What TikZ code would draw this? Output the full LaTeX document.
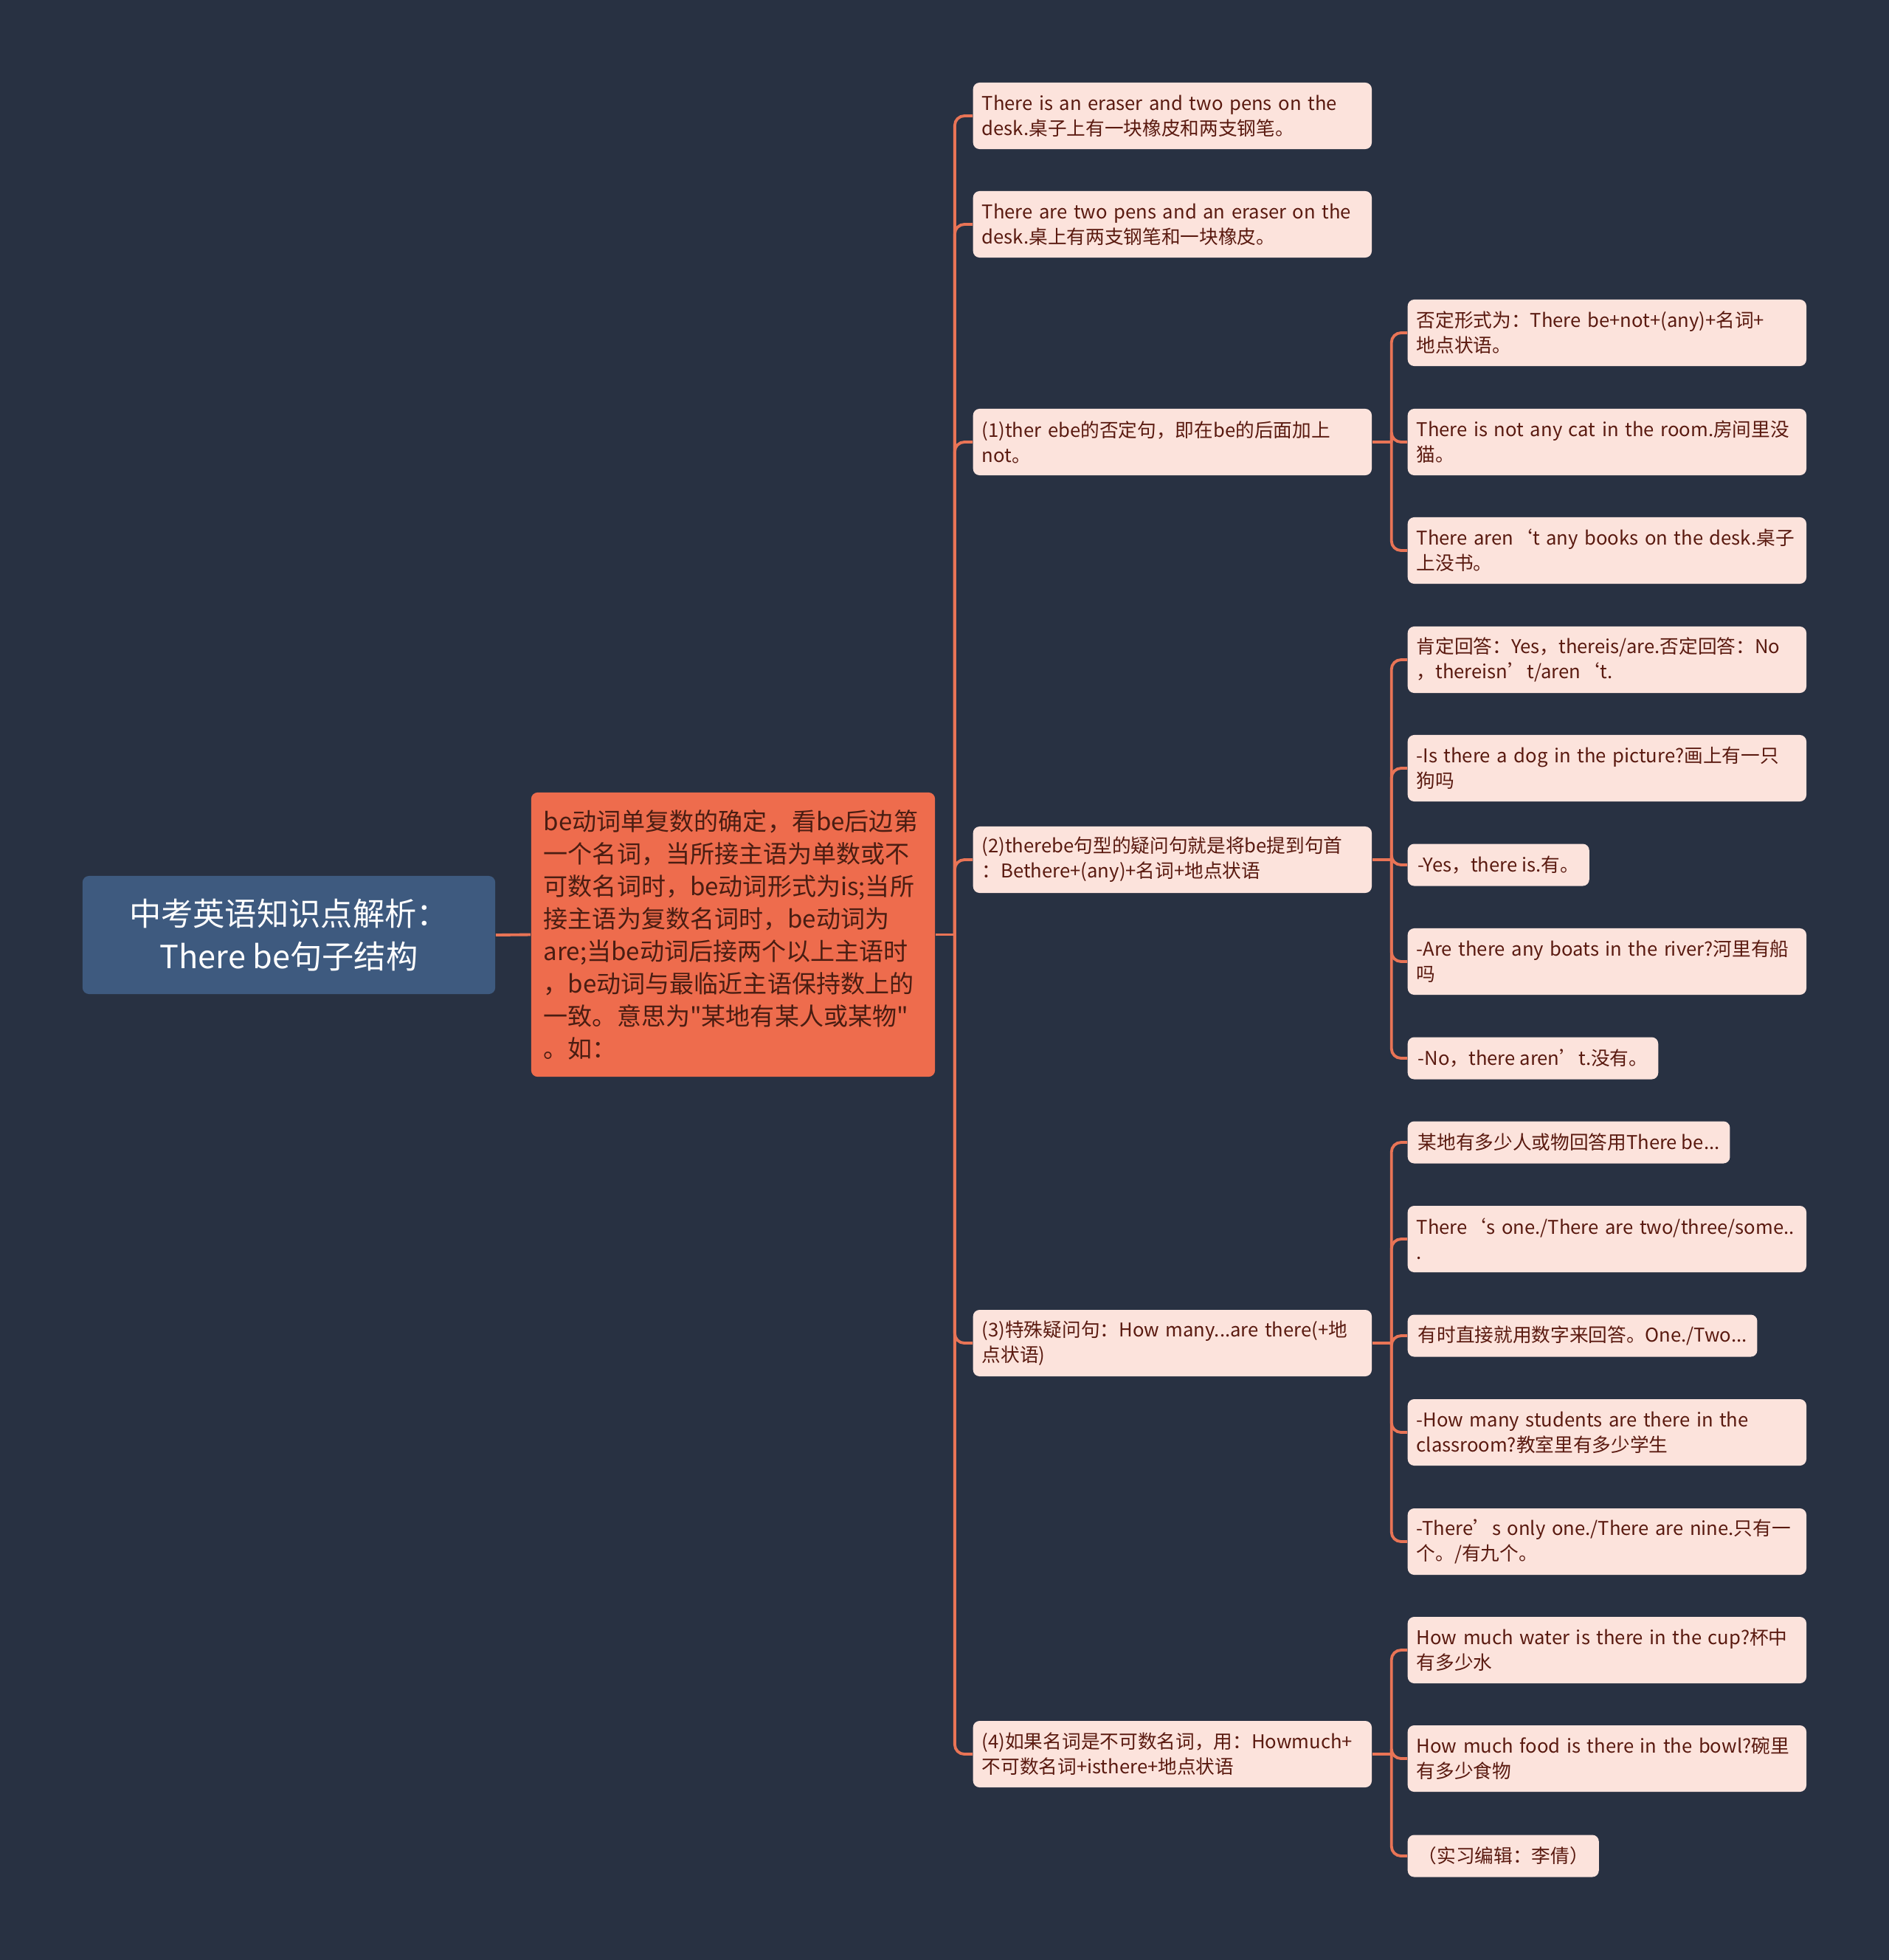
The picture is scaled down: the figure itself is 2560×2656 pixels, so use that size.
\documentclass[tikz,border=0pt]{standalone}
\usepackage{fontspec}
\newfontfamily\cjkfont{Noto Sans CJK SC}
\usetikzlibrary{positioning}
\definecolor{bgnavy}{HTML}{283142}
\definecolor{rootblue}{HTML}{3E5A7F}
\definecolor{mainorange}{HTML}{EE6C4D}
\definecolor{maintext}{HTML}{4A1D12}
\definecolor{leaffill}{HTML}{FCE3DC}
\definecolor{leaftext}{HTML}{5A1A10}
\definecolor{linkorange}{HTML}{E97456}

\begin{document}
\begin{tikzpicture}[
  x=0.01cm,y=-0.01cm,
  rootbox/.style={rounded corners=2.5pt, fill=rootblue, text=white, font=\cjkfont\fontsize{12.3}{16.5}\selectfont, align=center, minimum width=5.59cm, minimum height=1.6cm, inner sep=0pt},
  mainbox/.style={rounded corners=2.5pt, fill=mainorange, text=maintext, font=\cjkfont\fontsize{9.4}{12.5}\selectfont, align=left, text width=5.13cm, inner xsep=0.17cm, inner ysep=0pt, minimum height=3.85cm},
  leaf/.style={rounded corners=2.5pt, fill=leaffill, text=leaftext, font=\cjkfont\fontsize{7.3}{9.7}\selectfont, align=left, inner xsep=0.12cm, inner ysep=0pt, anchor=west},
  leafwide/.style={leaf, text width=5.16cm, minimum height=0.9cm},
  leafshort/.style={leaf, inner xsep=0.14cm, minimum height=0.57cm},
  link/.style={draw=linkorange, line width=1.1pt, rounded corners=0.13cm},
]
\fill[bgnavy] (0,0) rectangle (2560,2656);
\useasboundingbox (0,0) rectangle (2560,2656);

% root and main idea
\node[rootbox] (root) at (391.5,1267) {中考英语知识点解析：\\There be句子结构};
\node[mainbox] (main) at (993.5,1266.5) {be动词单复数的确定，看be后边第\\一个名词，当所接主语为单数或不\\可数名词时，be动词形式为is;当所\\接主语为复数名词时，be动词为\\are;当be动词后接两个以上主语时\\，be动词与最临近主语保持数上的\\一致。意思为"某地有某人或某物"\\。如：};
\draw[link] (root.east) -- (main.west);

% second level
\node[leafwide] (ex1) at (1318,157) {There is an eraser and two pens on the\\desk.桌子上有一块橡皮和两支钢笔。};
\node[leafwide] (ex2) at (1318,304) {There are two pens and an eraser on the\\desk.桌上有两支钢笔和一块橡皮。};
\node[leafwide] (neg) at (1318,599) {(1)ther ebe的否定句，即在be的后面加上\\not。};
\node[leafwide] (ques) at (1318,1165) {(2)therebe句型的疑问句就是将be提到句首\\：Bethere+(any)+名词+地点状语};
\node[leafwide] (many) at (1318,1820) {(3)特殊疑问句：How many...are there(+地\\点状语)};
\node[leafwide] (much) at (1318,2377) {(4)如果名词是不可数名词，用：Howmuch+\\不可数名词+isthere+地点状语};
\coordinate (tmain) at ([xshift=0.26cm]main.east);
\draw[link] (main.east) -- (tmain);
\foreach \c in {ex1,ex2,neg,ques,many,much}
  \draw[link] (tmain) |- (\c.west);

% negative sentences
\node[leafwide] (neg1) at (1907,451) {否定形式为：There be+not+(any)+名词+\\地点状语。};
\node[leafwide] (neg2) at (1907,599) {There is not any cat in the room.房间里没\\猫。};
\node[leafwide] (neg3) at (1907,746) {There aren‘t any books on the desk.桌子\\上没书。};

% questions
\node[leafwide] (ques1) at (1907,894) {肯定回答：Yes，thereis/are.否定回答：No\\，thereisn’t/aren‘t.};
\node[leafwide] (ques2) at (1907,1041) {-Is there a dog in the picture?画上有一只\\狗吗};
\node[leafshort] (ques3) at (1907,1172) {-Yes，there is.有。};
\node[leafwide] (ques4) at (1907,1303) {-Are there any boats in the river?河里有船\\吗};
\node[leafshort] (ques5) at (1907,1434) {-No，there aren’t.没有。};

% how many
\node[leafshort] (many1) at (1907,1548) {某地有多少人或物回答用There be...};
\node[leafwide] (many2) at (1907,1679) {There‘s one./There are two/three/some..\\.};
\node[leafshort] (many3) at (1907,1810) {有时直接就用数字来回答。One./Two...};
\node[leafwide] (many4) at (1907,1941) {-How many students are there in the\\classroom?教室里有多少学生};
\node[leafwide] (many5) at (1907,2089) {-There’s only one./There are nine.只有一\\个。/有九个。};

% how much
\node[leafwide] (much1) at (1907,2236) {How much water is there in the cup?杯中\\有多少水};
\node[leafwide] (much2) at (1907,2383) {How much food is there in the bowl?碗里\\有多少食物};
\node[leafshort] (much3) at (1907,2515) {（实习编辑：李倩）};

\foreach \p/\kids in {neg/{neg1,neg2,neg3},ques/{ques1,ques2,ques3,ques4,ques5},many/{many1,many2,many3,many4,many5},much/{much1,much2,much3}} {
  \coordinate (t\p) at ([xshift=0.26cm]\p.east);
  \draw[link] (\p.east) -- (t\p);
  \foreach \c in \kids
    \draw[link] (t\p) |- (\c.west);
}
\end{tikzpicture}
\end{document}
